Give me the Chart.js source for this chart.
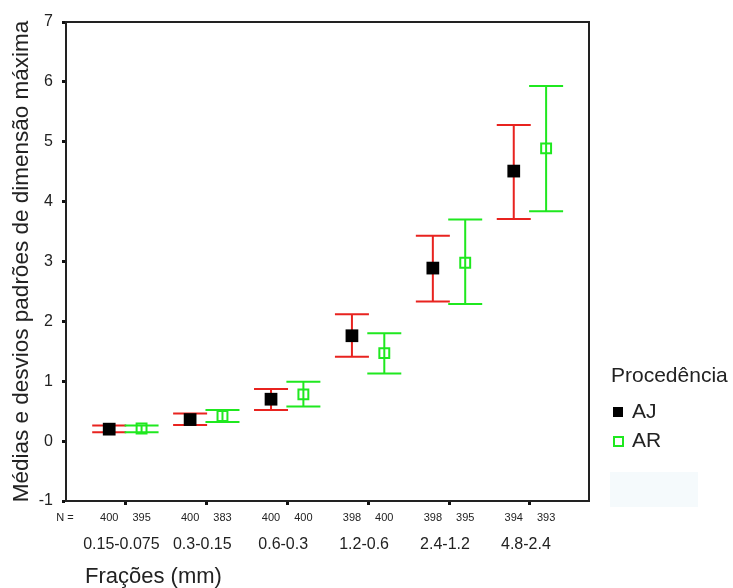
<!DOCTYPE html>
<html>
<head>
<meta charset="utf-8">
<script src="https://cdn.jsdelivr.net/npm/chart.js@4"></script>
<style>
  html, body { margin: 0; padding: 0; background: #fff; }
</style>
</head>
<body>
<canvas id="grafico" width="733" height="588"></canvas>
<script>
const fracoes = ['0.15-0.075', '0.3-0.15', '0.6-0.3', '1.2-0.6', '2.4-1.2', '4.8-2.4'];
const nAJ = [400, 400, 400, 398, 398, 394];
const nAR = [395, 383, 400, 400, 395, 393];
const mediaAJ = [0.20, 0.36, 0.70, 1.76, 2.89, 4.51];
const supAJ = [0.26, 0.46, 0.87, 2.12, 3.43, 5.28];
const infAJ = [0.15, 0.27, 0.52, 1.41, 2.33, 3.71];
const mediaAR = [0.21, 0.42, 0.78, 1.47, 2.98, 4.89];
const supAR = [0.26, 0.52, 0.99, 1.80, 3.70, 5.93];
const infAR = [0.15, 0.32, 0.58, 1.13, 2.29, 3.84];
const yTicks = [-1, 0, 1, 2, 3, 4, 5, 6, 7];

const fonte = '"Liberation Sans", Arial, sans-serif';
const vermelho = '#e8231f';
const verde = '#1fe81f';

// info extra de cada serie (barras de erro e N)
const series = [
  { rotulo: 'AJ', desloc: -0.2, sup: supAJ, inf: infAJ, n: nAJ, cor: vermelho },
  { rotulo: 'AR', desloc: 0.2, sup: supAR, inf: infAR, n: nAR, cor: verde }
];

const barrasErro = {
  id: 'barrasErro',
  beforeDatasetsDraw(chart) {
    const { ctx, scales: { x, y } } = chart;
    series.forEach(s => {
      ctx.save();
      ctx.strokeStyle = s.cor;
      ctx.lineWidth = 2;
      fracoes.forEach((f, i) => {
        const px = x.getPixelForValue(i + s.desloc);
        const topo = y.getPixelForValue(s.sup[i]);
        const base = y.getPixelForValue(s.inf[i]);
        ctx.beginPath();
        ctx.moveTo(px, topo); ctx.lineTo(px, base);
        ctx.moveTo(px - 17, topo); ctx.lineTo(px + 17, topo);
        ctx.moveTo(px - 17, base); ctx.lineTo(px + 17, base);
        ctx.stroke();
      });
      ctx.restore();
    });
  },
  afterDraw(chart) {
    const { ctx, chartArea: a, scales: { x } } = chart;
    ctx.save();
    // moldura do grafico
    ctx.strokeStyle = '#222';
    ctx.lineWidth = 2;
    ctx.strokeRect(a.left, a.top, a.right - a.left, a.bottom - a.top);

    // linha N =
    ctx.fillStyle = '#222';
    ctx.textBaseline = 'middle';
    ctx.textAlign = 'center';
    ctx.font = '11px ' + fonte;
    ctx.fillText('N =', 65, 518);
    series.forEach(s => {
      fracoes.forEach((f, i) => {
        ctx.fillText(String(s.n[i]), x.getPixelForValue(i + s.desloc), 518);
      });
    });

    // titulo eixo x
    ctx.textAlign = 'left';
    ctx.font = '22px ' + fonte;
    ctx.fillText('Frações (mm)', 85, 577);

    // legenda
    ctx.fillStyle = '#f5fafc';
    ctx.fillRect(610, 472, 88, 35);
    ctx.fillStyle = '#222';
    ctx.font = '21px ' + fonte;
    ctx.fillText('Procedência', 611, 376);
    ctx.fillText('AJ', 632, 412);
    ctx.fillText('AR', 632, 441);
    ctx.fillStyle = '#000';
    ctx.fillRect(613, 407, 10, 10);
    ctx.strokeStyle = verde;
    ctx.lineWidth = 2;
    ctx.strokeRect(614, 437, 9, 9);
    ctx.restore();
  }
};

const ctx = document.getElementById('grafico').getContext('2d');
new Chart(ctx, {
  type: 'scatter',
  data: {
    datasets: [
      {
        label: 'AJ',
        data: fracoes.map((f, i) => ({ x: i - 0.2, y: mediaAJ[i] })),
        pointStyle: 'rect',
        pointRadius: 9,
        pointBackgroundColor: '#000',
        pointBorderColor: '#000',
        pointBorderWidth: 0
      },
      {
        label: 'AR',
        data: fracoes.map((f, i) => ({ x: i + 0.2, y: mediaAR[i] })),
        pointStyle: 'rect',
        pointRadius: 7,
        pointBackgroundColor: 'rgba(0,0,0,0)',
        pointBorderColor: verde,
        pointBorderWidth: 2
      }
    ]
  },
  options: {
    responsive: false,
    animation: false,
    layout: { padding: { top: 22, right: 144, left: 0, bottom: 0 } },
    plugins: { legend: { display: false }, tooltip: { enabled: false } },
    scales: {
      x: {
        type: 'linear',
        min: -0.734,
        max: 5.73,
        afterBuildTicks: s => { s.ticks = fracoes.map((f, i) => ({ value: i })); },
        afterFit: s => { s.height = 87; },
        ticks: {
          callback: v => fracoes[v],
          font: { family: fonte, size: 16 },
          color: '#222',
          padding: 30,
          labelOffset: -4,
          maxRotation: 0,
          autoSkip: false
        },
        grid: { drawOnChartArea: false, tickLength: 4, tickWidth: 3, tickColor: '#111' },
        border: { color: '#222', width: 2 }
      },
      y: {
        min: -1,
        max: 7,
        afterBuildTicks: s => { s.ticks = yTicks.map(v => ({ value: v })); },
        afterFit: s => { s.width = 66; },
        ticks: { font: { family: fonte, size: 16 }, color: '#222', padding: 9 },
        grid: { drawOnChartArea: false, tickLength: 4, tickWidth: 3, tickColor: '#111' },
        border: { color: '#222', width: 2 },
        title: {
          display: true,
          text: 'Médias e desvios padrões de dimensão máxima',
          font: { family: fonte, size: 22.5 },
          color: '#222',
          padding: { top: 8, bottom: 0 }
        }
      }
    }
  },
  plugins: [barrasErro]
});
</script>
</body>
</html>
